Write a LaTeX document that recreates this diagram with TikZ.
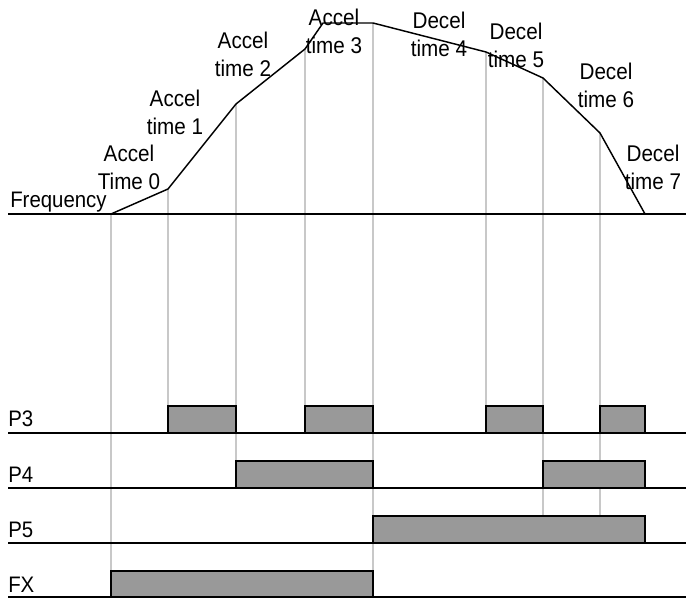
\documentclass[tikz,border=0pt]{standalone}
\usepackage{fontspec}
\setmainfont{Liberation Sans}
\definecolor{pulsefill}{RGB}{153,153,153}
\definecolor{guide}{RGB}{200,200,200}
\newcommand\stx[1]{\scalebox{1}[1.1]{#1}}
\begin{document}
\begin{tikzpicture}[x=0.75pt,y=-0.75pt,
  lbl/.style={font=\fontsize{15.5}{21.5}\selectfont, inner sep=0pt, align=center, anchor=base},
  rowlbl/.style={font=\fontsize{15.3}{18}\selectfont, inner sep=0pt, anchor=base west},
  axisline/.style={line width=2.2pt},
  freqcurve/.style={line width=1.1pt, line join=round},
  guideline/.style={draw=guide, line width=0.8pt},
  pulse/.style={fill=pulsefill, draw=black, line width=1pt}]
\useasboundingbox (0,0) rectangle (686,599);
% curve points
\coordinate (f0) at (111,214);
\coordinate (f1) at (168,189);
\coordinate (f2) at (236,104);
\coordinate (f3) at (305,49);
\coordinate (f3b) at (323,23);
\coordinate (f4) at (373,23);
\coordinate (f5) at (486,52);
\coordinate (f6) at (543,78);
\coordinate (f7) at (600,133);
\coordinate (f8) at (645,214);
% guide lines
\draw[guideline] (f0) -- (111,571);
\draw[guideline] (f1) -- (168,406);
\draw[guideline] (f2) -- (236,461);
\draw[guideline] (f3) -- (305,406);
\draw[guideline] (f4) -- (373,597);
\draw[guideline] (f5) -- (486,406);
\draw[guideline] (f6) -- (543,516);
\draw[guideline] (f7) -- (600,516);
% pulses
\draw[pulse] (168,433) rectangle (236,406);
\draw[pulse] (305,433) rectangle (373,406);
\draw[pulse] (486,433) rectangle (543,406);
\draw[pulse] (600,433) rectangle (645,406);
\draw[pulse] (236,488) rectangle (373,461);
\draw[pulse] (543,488) rectangle (645,461);
\draw[pulse] (373,543) rectangle (645,516);
\draw[pulse] (111,597) rectangle (373,571);
% baselines
\draw[axisline] (8,214) -- (686,214);
\draw[axisline] (8,433) -- (686,433);
\draw[axisline] (8,488) -- (686,488);
\draw[axisline] (8,543) -- (686,543);
\draw[axisline] (8,597) -- (686,597);
% frequency curve
\draw[freqcurve] (f0) -- (f1) -- (f2) -- (f3) -- (f3b) -- (f4) -- (f5) -- (f6) -- (f7) -- (f8);
% labels
\node[rowlbl] (freq) at (10,208) {\stx{Frequency}};
\node[rowlbl] (p3) at (8,426) {\stx{P3}};
\node[rowlbl] (p4) at (8,482) {\stx{P4}};
\node[rowlbl] (p5) at (8,537) {\stx{P5}};
\node[rowlbl] (fx) at (8,592) {\stx{FX}};
\node[lbl] (a0) at (129,190) {\stx{Accel}\\\stx{Time 0}};
\node[lbl] (a1) at (175,135) {\stx{Accel}\\\stx{time 1}};
\node[lbl] (a2) at (243,77) {\stx{Accel}\\\stx{time 2}};
\node[lbl] (a3) at (334,54) {\stx{Accel}\\\stx{time 3}};
\node[lbl] (d4) at (439,57) {\stx{Decel}\\\stx{time 4}};
\node[lbl] (d5) at (516,68) {\stx{Decel}\\\stx{time 5}};
\node[lbl] (d6) at (606,108) {\stx{Decel}\\\stx{time 6}};
\node[lbl] (d7) at (653,190) {\stx{Decel}\\\stx{time 7}};
\end{tikzpicture}
\end{document}
